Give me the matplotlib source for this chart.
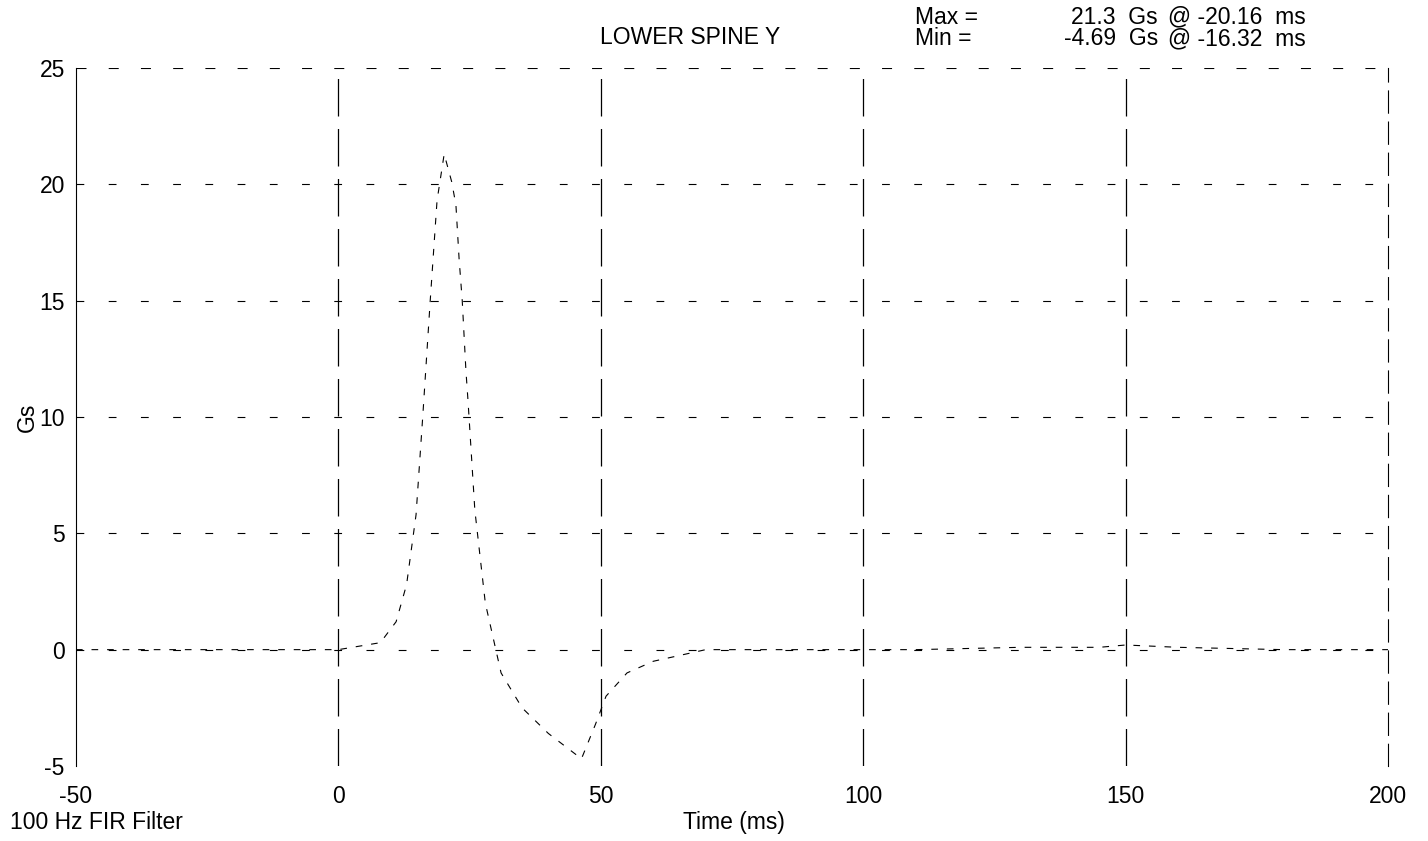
import numpy as np
import matplotlib
matplotlib.use("Agg")
import matplotlib.pyplot as plt

plt.rcParams['font.family'] = ['Liberation Sans', 'DejaVu Sans']
plt.rcParams['axes.unicode_minus'] = False

# Trace (time in ms, acceleration in Gs)
time_ms = [-50, -30, -10, 0, 8, 11, 13, 14.8, 16.1, 17.5, 18.8, 20.16, 21.6, 22.4, 23.0,
           23.6, 24.3, 24.7, 26, 28, 31, 35, 40, 46.32, 49, 51, 55, 60, 70, 90, 110,
           130, 145, 150, 160, 180, 200]
accel_gs = [0, 0, 0, 0, 0.3, 1.2, 2.8, 5.8, 10.1, 15.0, 19.3, 21.3, 20.1, 19.1, 16.8,
            15.0, 12.0, 10.7, 6.0, 2.0, -1.0, -2.5, -3.6, -4.69, -3.2, -2.0, -1.0, -0.5,
            0, 0, 0, 0.1, 0.1, 0.2, 0.1, 0, 0]

x_ticks = [-50, 0, 50, 100, 150, 200]
y_ticks = [-5, 0, 5, 10, 15, 20, 25]

fs = 16.5

fig = plt.figure(figsize=(14.28, 8.41), dpi=100)
ax = fig.add_axes([0.0532, 0.0892, 0.9188, 0.83])

# Grid as broken dashed lines like the scan
for yv in y_ticks[1:-1]:
    ax.axhline(yv, color='black', lw=0.8, ls=(0, (7, 22)), zorder=1)
ax.axhline(25, color='black', lw=0.8, ls=(0, (9, 20)), zorder=1)
ax.axhline(-5, color='black', lw=0.6, ls=(0, (6, 30)), zorder=1)
for xv in x_ticks[1:-1]:
    ax.axvline(xv, color='black', lw=0.9, ls=(0, (30, 10)), zorder=1)

ax.plot(time_ms, accel_gs, color='black', lw=0.8, ls=(0, (6, 8)), zorder=2)

ax.set_xlim(-50, 200)
ax.set_ylim(-5, 25)
ax.set_xticks(x_ticks)
ax.set_yticks(y_ticks)
ax.tick_params(axis='y', length=0, labelsize=fs, pad=8)
ax.tick_params(axis='x', length=0, labelsize=fs, pad=14)

ax.spines['top'].set_visible(False)
ax.spines['bottom'].set_visible(False)
ax.spines['left'].set_linewidth(0.8)
ax.spines['right'].set_linestyle((0, (20, 8)))
ax.spines['right'].set_linewidth(0.8)

ax.set_ylabel('Gs', fontsize=fs, labelpad=0)
fig.text(0.514, 0.008, 'Time (ms)', fontsize=fs, ha='center', va='bottom')
fig.text(0.007, 0.008, '100 Hz FIR Filter', fontsize=fs, ha='left', va='bottom')
fig.text(0.483, 0.942, 'LOWER SPINE Y', fontsize=fs, ha='center', va='bottom')

fig.text(0.641, 0.966, 'Max =', fontsize=fs, va='bottom')
fig.text(0.641, 0.940, 'Min =', fontsize=fs, va='bottom')
fig.text(0.811, 0.966, '21.3  Gs', fontsize=fs, ha='right', va='bottom')
fig.text(0.811, 0.940, '-4.69  Gs', fontsize=fs, ha='right', va='bottom')
fig.text(0.818, 0.966, '@ -20.16  ms', fontsize=fs, va='bottom')
fig.text(0.818, 0.940, '@ -16.32  ms', fontsize=fs, va='bottom')

fig.savefig('out.png', dpi=100)
